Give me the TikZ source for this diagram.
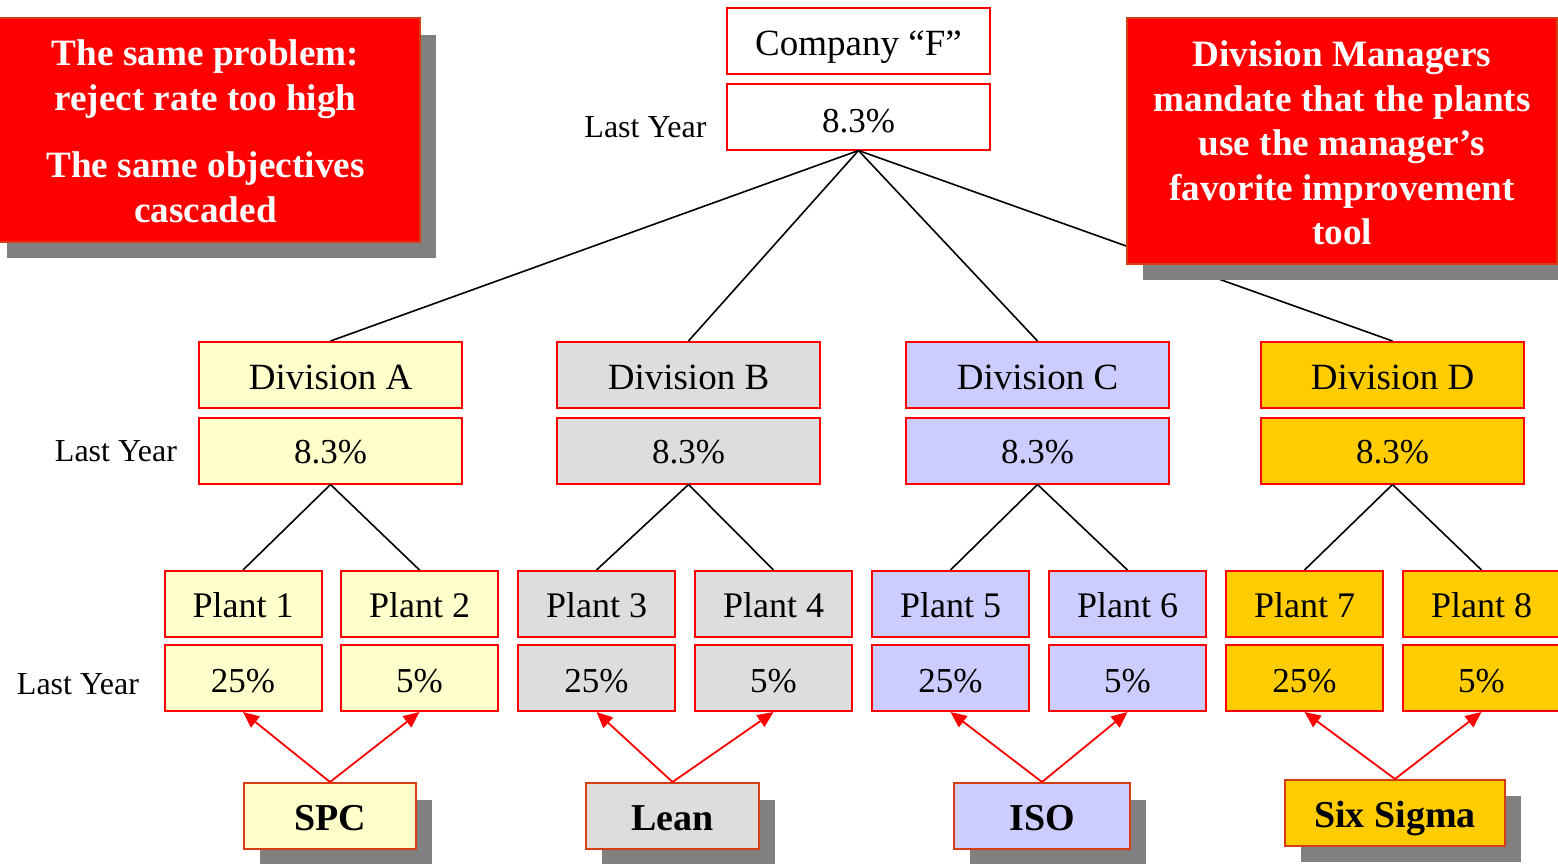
\documentclass[tikz,border=0pt]{standalone}
\usepackage{fontspec}
\setmainfont{Liberation Serif}
\usetikzlibrary{arrows.meta}
\definecolor{cyel}{HTML}{FFFFCC}
\definecolor{cgray}{HTML}{DDDDDD}
\definecolor{clav}{HTML}{CCCCFF}
\definecolor{cgold}{HTML}{FFCC00}
\definecolor{shadowgray}{HTML}{808080}
\definecolor{toolborder}{RGB}{215,60,20}
\tikzset{
  unitbox/.style={draw=red, line width=1pt, inner sep=0pt, minimum height=33pt, text depth=0pt},
  divbox/.style={unitbox, minimum width=131.5pt, text height=14.5pt, font=\fontsize{18.5}{20}\selectfont},
  valbox/.style={unitbox, minimum width=131.5pt, text height=13pt, font=\fontsize{17.5}{20}\selectfont},
  plantbox/.style={unitbox, minimum width=78.5pt, text height=13pt, font=\fontsize{18}{20}\selectfont},
  pvalbox/.style={unitbox, minimum width=78.5pt, text height=14pt, font=\fontsize{17.5}{20}\selectfont},
  lbl/.style={inner sep=0pt, font=\fontsize{16}{18}\selectfont},
  toolbox/.style={draw=toolborder, line width=1pt, inner sep=0pt, minimum height=33pt, text height=14.5pt, text depth=0pt, font=\fontsize{19}{21}\selectfont\bfseries},
  notebox/.style={fill=red, draw=toolborder, line width=0.6pt, inner sep=0pt},
  notetext/.style={inner sep=0pt, text=white, align=center, font=\fontsize{18.6}{22.5}\selectfont\bfseries},
  tree/.style={draw=black, line width=0.8pt},
  redarrow/.style={draw=red, line width=0.9pt, -{Triangle[length=8pt, width=7pt]}}
}
\begin{document}
\begin{tikzpicture}[x=0.5pt, y=-0.5pt]
\useasboundingbox (0,0) rectangle (1558,863);
\clip (0,0) rectangle (1558,863);

% company
\node[divbox] (comp) at (858.5,41) {Company “F”};
\node[valbox, text height=16pt] (compv) at (858.5,116.5) {8.3\%};
\node[lbl] (ly0) at (645.5,127) {Last Year};

% divisions
\node[divbox, fill=cyel] (da) at (330.5,375) {Division A};
\node[valbox, fill=cyel] (dav) at (330.5,450.5) {8.3\%};
\node[divbox, fill=cgray] (db) at (688.5,375) {Division B};
\node[valbox, fill=cgray] (dbv) at (688.5,450.5) {8.3\%};
\node[divbox, fill=clav] (dc) at (1037.5,375) {Division C};
\node[valbox, fill=clav] (dcv) at (1037.5,450.5) {8.3\%};
\node[divbox, fill=cgold] (dd) at (1392.5,375) {Division D};
\node[valbox, fill=cgold] (ddv) at (1392.5,450.5) {8.3\%};
\node[lbl] (ly1) at (116,451) {Last Year};

% plants
\node[plantbox, fill=cyel] (p1) at (243,604) {Plant 1};
\node[pvalbox, fill=cyel] (p1v) at (243,678) {25\%};
\node[plantbox, fill=cyel] (p2) at (419.5,604) {Plant 2};
\node[pvalbox, fill=cyel] (p2v) at (419.5,678) {5\%};
\node[plantbox, fill=cgray] (p3) at (596.5,604) {Plant 3};
\node[pvalbox, fill=cgray] (p3v) at (596.5,678) {25\%};
\node[plantbox, fill=cgray] (p4) at (773.5,604) {Plant 4};
\node[pvalbox, fill=cgray] (p4v) at (773.5,678) {5\%};
\node[plantbox, fill=clav] (p5) at (950.5,604) {Plant 5};
\node[pvalbox, fill=clav] (p5v) at (950.5,678) {25\%};
\node[plantbox, fill=clav] (p6) at (1127.5,604) {Plant 6};
\node[pvalbox, fill=clav] (p6v) at (1127.5,678) {5\%};
\node[plantbox, fill=cgold] (p7) at (1304.5,604) {Plant 7};
\node[pvalbox, fill=cgold] (p7v) at (1304.5,678) {25\%};
\node[plantbox, fill=cgold] (p8) at (1481.5,604) {Plant 8};
\node[pvalbox, fill=cgold] (p8v) at (1481.5,678) {5\%};
\node[lbl] (ly2) at (78,684) {Last Year};

% tree lines
\draw[tree] (compv.south) -- (da.north);
\draw[tree] (compv.south) -- (db.north);
\draw[tree] (compv.south) -- (dc.north);
\draw[tree] (compv.south) -- (dd.north);
\draw[tree] (dav.south) -- (p1.north);
\draw[tree] (dav.south) -- (p2.north);
\draw[tree] (dbv.south) -- (p3.north);
\draw[tree] (dbv.south) -- (p4.north);
\draw[tree] (dcv.south) -- (p5.north);
\draw[tree] (dcv.south) -- (p6.north);
\draw[tree] (ddv.south) -- (p7.north);
\draw[tree] (ddv.south) -- (p8.north);

% note boxes
\fill[shadowgray] (7,35) rectangle (436,258);
\node[notebox, minimum width=214.5pt, minimum height=112pt] (note1) at (205.5,130) {};
\node[notetext] (note1t) at (205.5,131.5)
  {The same problem:\\reject rate too high\\[11pt]The same objectives\\cascaded};
\fill[shadowgray] (1143,35) rectangle (1573,280);
\node[notebox, minimum width=215pt, minimum height=123pt] (note2) at (1342,141) {};
\node[notetext, font=\fontsize{18.6}{22.25}\selectfont\bfseries] (note2t) at (1342,143)
  {Division Managers\\mandate that the plants\\use the manager’s\\favorite improvement\\tool};

% tool boxes
\fill[shadowgray] (260,800) rectangle (432,866);
\node[toolbox, fill=cyel, minimum width=86pt] (spc) at (330,816) {SPC};
\fill[shadowgray] (602,800) rectangle (775,866);
\node[toolbox, fill=cgray, minimum width=86.5pt] (lean) at (672.5,816) {Lean};
\fill[shadowgray] (970,800) rectangle (1146,866);
\node[toolbox, fill=clav, minimum width=88pt] (iso) at (1042,816) {ISO};
\fill[shadowgray] (1301,796) rectangle (1521,862);
\node[toolbox, fill=cgold, minimum width=110pt] (six) at (1395,813) {Six Sigma};

% red arrows
\draw[redarrow] (spc.north) -- (p1v.south);
\draw[redarrow] (spc.north) -- (p2v.south);
\draw[redarrow] (lean.north) -- (p3v.south);
\draw[redarrow] (lean.north) -- (p4v.south);
\draw[redarrow] (iso.north) -- (p5v.south);
\draw[redarrow] (iso.north) -- (p6v.south);
\draw[redarrow] (six.north) -- (p7v.south);
\draw[redarrow] (six.north) -- (p8v.south);
\end{tikzpicture}
\end{document}
